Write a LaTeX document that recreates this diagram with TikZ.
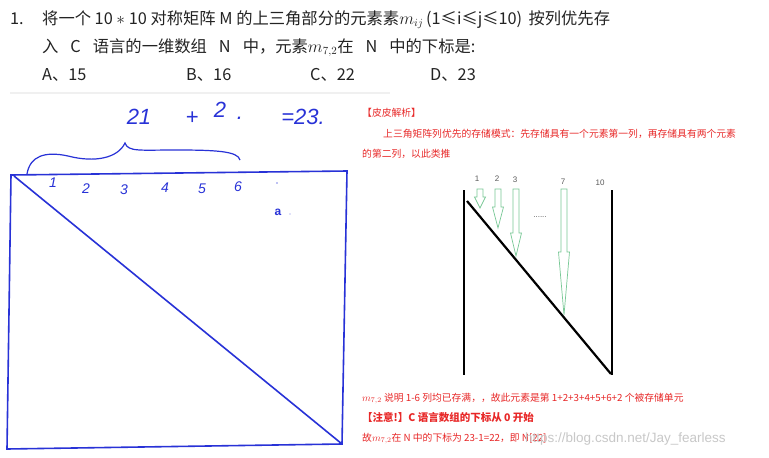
\documentclass[tikz,border=0pt]{standalone}
\usepackage{fontspec}
\setmainfont{Liberation Sans}
\newfontfamily\cjk{Noto Sans CJK SC}
\definecolor{titlegray}{RGB}{35,35,35}
\definecolor{penblue}{RGB}{40,50,215}
\definecolor{notered}{RGB}{232,40,40}
\definecolor{arrowgreen}{RGB}{120,200,150}
\definecolor{labelgray}{RGB}{90,90,90}
\definecolor{wmgray}{RGB}{200,200,200}
\tikzset{
  titletext/.style={anchor=base west, inner sep=0pt, text=titlegray, font=\cjk\fontsize{16.3}{18}\selectfont},
  hand/.style={inner sep=0pt, text=penblue, font=\fontsize{22}{24}\selectfont\itshape},
  handsmall/.style={inner sep=0pt, text=penblue, font=\fontsize{14}{16}\selectfont\itshape},
  pen/.style={draw=penblue, line width=1.6pt},
  redtext/.style={anchor=base west, inner sep=0pt, text=notered, font=\cjk\fontsize{9.8}{12}\selectfont},
  collabel/.style={inner sep=0pt, text=labelgray, font=\fontsize{8}{9}\selectfont},
  thick black/.style={draw=black, line width=2.2pt},
  hollow/.style={draw=arrowgreen, line width=0.7pt, fill=white}
}
\newcommand{\hollowarrow}[4]{% x, top, head start, tip
  \draw[hollow] (#1-3,#2) -- (#1+3,#2) -- (#1+3,#3) -- (#1+5.5,#3) -- (#1,#4) -- (#1-5.5,#3) -- (#1-3,#3) -- cycle;}
\begin{document}
\begin{tikzpicture}[x=1pt,y=-1pt]
\useasboundingbox[fill=white] (0,0) rectangle (769,458);
% faint separator
\draw[draw=black!6, line width=2pt] (10,93) -- (390,93);
% title
\node[titletext] (num) at (10,24) {1.};
\node[titletext] (l1) at (42,24) {将一个 10 $*$ 10 对称矩阵 M 的上三角部分的元素素$m_{ij}$\,(1≤i≤j≤10)\, 按列优先存};
\node[titletext] (l2) at (42,52) {入\hspace{12pt}C\hspace{12pt}语言的一维数组\hspace{12pt}N\hspace{12pt}中，元素$m_{7,2}$在\hspace{12pt}N\hspace{12pt}中的下标是:};
\node[titletext] (oa) at (42,80) {A、15};
\node[titletext] (ob) at (186,80) {B、16};
\node[titletext] (oc) at (310,80) {C、22};
\node[titletext] (od) at (430,80) {D、23};
% handwriting
\node[hand] (h21) at (139,117) {21};
\node[hand] (hplus) at (192,118) {+};
\node[hand] (h2) at (220,110) {2};
\node[hand] (hdot) at (240,118) {.};
\node[hand] (h23) at (303,117) {=23.};
% brace
\draw[draw=penblue, line width=1.2pt] (27,174) .. controls (30,156) and (45,151) .. (68,156)
  .. controls (95,163) and (118,158) .. (125,143) .. controls (128,152) and (140,150) .. (175,150)
  .. controls (215,150) and (238,151) .. (240,160);
% matrix
\coordinate (tl) at (11,175);
\coordinate (tr) at (347,171);
\coordinate (br) at (342,444);
\coordinate (bl) at (7,449);
\draw[pen] (tl) -- (tr) -- (br) -- (bl) -- (tl) -- cycle;
\draw[pen] (14,176) -- (br);
\node[handsmall] (c1) at (53,183) {1};
\node[handsmall] (c2) at (86,189) {2};
\node[handsmall] (c3) at (124,190) {3};
\node[handsmall] (c4) at (165,188) {4};
\node[handsmall] (c5) at (202,189) {5};
\node[handsmall] (c6) at (238,187) {6};
\fill[penblue!60] (277,183) circle (0.8);
\node[handsmall, font=\fontsize{12}{14}\selectfont\bfseries] (scr) at (278,212) {a};
\fill[penblue!60] (290,214) circle (0.7);
% explanation
\node[redtext] (h1) at (362,116) {【皮皮解析】};
\node[redtext] (e1) at (383,137) {上三角矩阵列优先的存储模式：先存储具有一个元素第一列，再存储具有两个元素};
\node[redtext] (e2) at (362,157) {的第二列，以此类推};
% N diagram
\draw[thick black] (464,190) -- (464,375);
\draw[thick black] (612,190) -- (612,375);
\draw[thick black] (467,201) -- (611,374);
\node[collabel] (n1) at (477,179) {1};
\node[collabel] (n2) at (497,179) {2};
\node[collabel] (n3) at (515,180) {3};
\node[collabel] (n7) at (563,182) {7};
\node[collabel] (n10) at (600,183) {10};
\hollowarrow{480}{189}{197}{208}
\hollowarrow{498}{189}{207}{228}
\hollowarrow{516}{189}{233}{256}
\hollowarrow{564}{189}{252}{315}
\node[collabel] (dots) at (540,217) {......};
% bottom notes
\node[redtext] (b1) at (362,401) {$m_{7,2}$ 说明 1-6 列均已存满，，故此元素是第 1+2+3+4+5+6+2 个被存储单元};
\node[redtext, font=\cjk\fontsize{10.5}{12}\selectfont\bfseries] (b2) at (362,421) {【注意!】C 语言数组的下标从 0 开始};
\node[redtext] (b3) at (362,441) {故$m_{7,2}$在 N 中的下标为 23-1=22，即 N[22]};
\node[anchor=base west, inner sep=0pt, text=wmgray, font=\fontsize{13.5}{15}\selectfont] (wm) at (525,442) {https://blog.csdn.net/Jay\_fearless};
\end{tikzpicture}
\end{document}
